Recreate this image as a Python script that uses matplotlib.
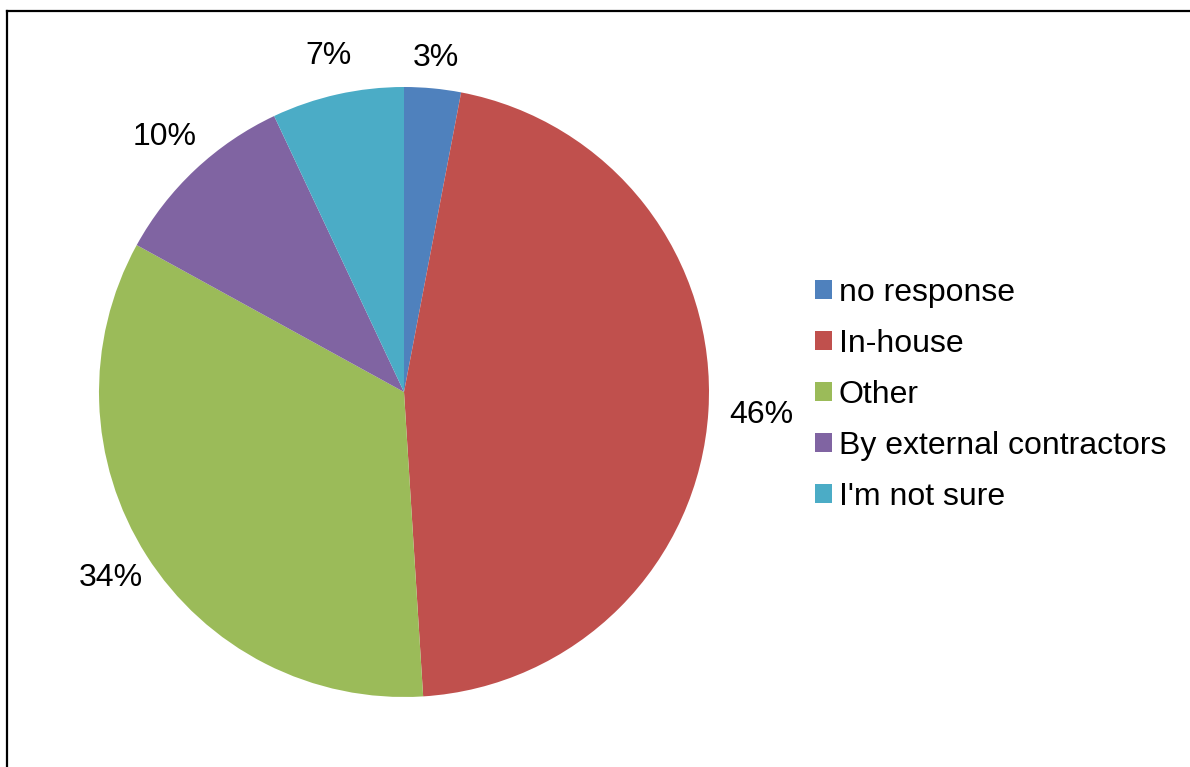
import numpy as np
import matplotlib.pyplot as plt
from matplotlib.patches import Patch
from matplotlib.lines import Line2D

plt.rcParams['font.family'] = ['Liberation Sans', 'DejaVu Sans']

# Who does the work (survey answers, %)
categories = ["no response", "In-house", "Other", "By external contractors", "I'm not sure"]
shares = [3, 46, 34, 10, 7]
colours = ["#4F81BD", "#C0504D", "#9BBB59", "#8064A2", "#4BACC6"]

# how far out each percentage sits (in pie radii)
label_dist = [1.10, 1.175, 1.137, 1.145, 1.13]

W, H = 1190, 767
fig = plt.figure(figsize=(W / 100, H / 100), dpi=100)

# pie axes: centre (404, 392) px, radius 305 px
cx, cy, r = 404, 392, 305
ax = fig.add_axes([(cx - r) / W, (H - cy - r) / H, 2 * r / W, 2 * r / H])
wedges, texts, autotexts = ax.pie(shares, colors=colours, startangle=90, counterclock=False,
                                  autopct="%d%%", wedgeprops=dict(linewidth=0),
                                  textprops=dict(fontsize=23, color="black"))
for w, t, d in zip(wedges, autotexts, label_dist):
    ang = np.deg2rad((w.theta1 + w.theta2) / 2)
    t.set_position((d * np.cos(ang), d * np.sin(ang)))
ax.set_xlim(-1, 1)
ax.set_ylim(-1, 1)
ax.set_aspect("equal")
ax.axis("off")

handles = [Patch(facecolor=c, edgecolor="none") for c in colours]
fig.legend(handles, categories, loc="center left", bbox_to_anchor=(815 / W, 1 - 395 / H),
           frameon=False, fontsize=23, handlelength=0.53, handleheight=0.53,
           handletextpad=0.22, labelspacing=0.66, borderpad=0, borderaxespad=0)

# outer frame (left and top edges show)
x0 = 6.5 / W
y0 = 1 - 10.5 / H
fig.add_artist(Line2D([x0, x0], [0, y0], color="black", linewidth=1.6, transform=fig.transFigure))
fig.add_artist(Line2D([x0, 1], [y0, y0], color="black", linewidth=1.6, transform=fig.transFigure))

fig.savefig("out.png", dpi=100, facecolor="white")
